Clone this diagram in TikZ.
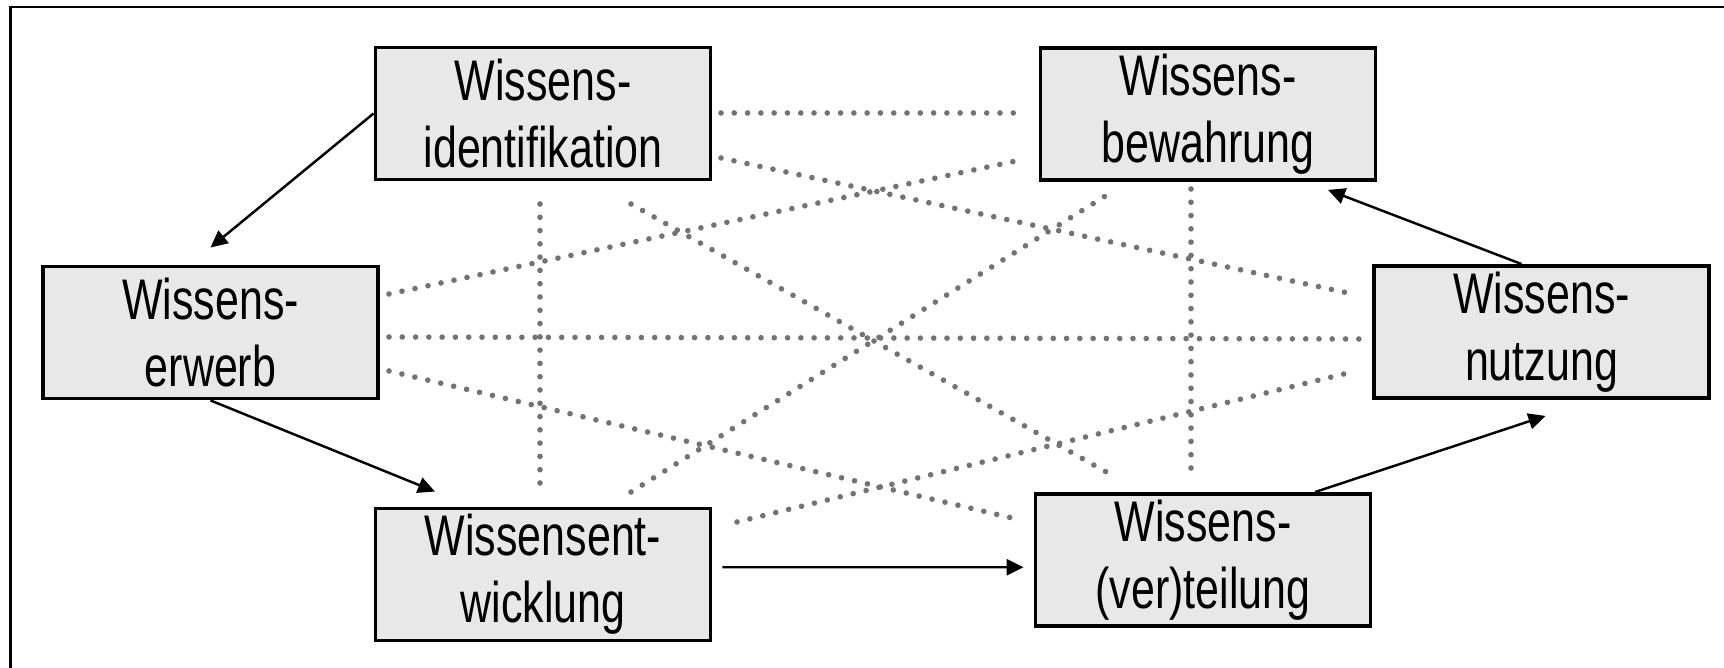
\documentclass[tikz,border=0pt]{standalone}
\usepackage{fontspec}
\setmainfont[FakeStretch=0.75]{Liberation Sans}
\usetikzlibrary{arrows.meta}
\definecolor{dotgray}{RGB}{115,115,115}
\definecolor{boxgray}{RGB}{232,232,232}
\begin{document}
\begin{tikzpicture}
[boxdecorate/.style={shape=rectangle,draw,line width=1.1pt,fill=boxgray,%
   minimum width=3.35cm,minimum height=1.32cm,inner sep=0pt,align=center,%
   font=\fontsize{16.3}{19}\selectfont},%
  arrowdecorate/.style={-{Triangle[length=0.17cm,width=0.16cm]},line width=0.7pt},%
  dotdecorate/.style={-,dotgray,line width=1.6pt,line cap=round,%
   dash pattern=on 0pt off 3.78pt}]
\useasboundingbox (0,0) rectangle (17.24,6.68);
%% frame
\draw[line width=0.7pt] (0.105,0) -- (0.105,6.61) -- (17.24,6.61);
%% nodes or boxes
\foreach \nodename/\x/\y/\firstline/\secondline in {
  identifikation/5.43/5.545/Wissens-/identifikation,
  bewahrung/12.08/5.54/Wissens-/bewahrung,
  erwerb/2.105/3.355/Wissens-/erwerb,
  nutzung/15.415/3.36/Wissens-/nutzung,
  entwicklung/5.43/0.935/Wissensent-/wicklung,
  verteilung/12.03/1.08/Wissens-/{(ver)teilung}} {
  \node (\nodename) at (\x,\y) [boxdecorate] {\firstline\\\secondline};
}
%% ends of the dotted lines
\foreach \coordname/\x/\y in {
  ib/7.21/5.55, bi/10.16/5.55, in/7.21/5.10, ni/13.48/3.75,
  eb/3.89/3.74, be/10.16/5.07, en/3.89/3.31, ne/13.64/3.29,
  ev/3.89/2.97, ve/10.12/1.50, wn/7.37/1.46, nw/13.48/2.95,
  iv/6.31/4.64, vi/11.08/1.95, wb/6.31/1.76, bw/11.07/4.73,
  iw/5.40/4.64, wi/5.40/1.84, bv/11.91/4.79, vb/11.91/1.99} {
  \coordinate (\coordname) at (\x,\y);
}
%% ends of the arrows
\coordinate (erwerbin) at ([yshift=0.17cm]erwerb.north);
\coordinate (entwin) at ([shift={(-1.08,0.15)}]entwicklung.north);
\coordinate (entwout) at ([shift={(0.1,0.0725)}]entwicklung.east);
\coordinate (verteilin) at ([shift={(-0.1,-0.0725)}]verteilung.west);
\coordinate (verteilout) at ([xshift=1.12cm]verteilung.north);
\coordinate (nutzin) at ([shift={(0.04,-0.16)}]nutzung.south);
\coordinate (nutzout) at ([xshift=-0.2cm]nutzung.north);
\coordinate (bewahrin) at ([shift={(1.2,-0.08)}]bewahrung.south);
%% dotted lines
\path
\foreach \startnode/\endnode in {ib/bi, in/ni, eb/be, en/ne, ev/ve,
  wn/nw, iv/vi, wb/bw, iw/wi, bv/vb} {
  (\startnode) edge[dotdecorate] (\endnode)
};
%% arrows
\path
\foreach \startnode/\endnode in {identifikation.west/erwerbin,
  erwerb.south/entwin, entwout/verteilin, verteilout/nutzin,
  nutzout/bewahrin} {
  (\startnode) edge[arrowdecorate] (\endnode)
};
\end{tikzpicture}
\end{document}
